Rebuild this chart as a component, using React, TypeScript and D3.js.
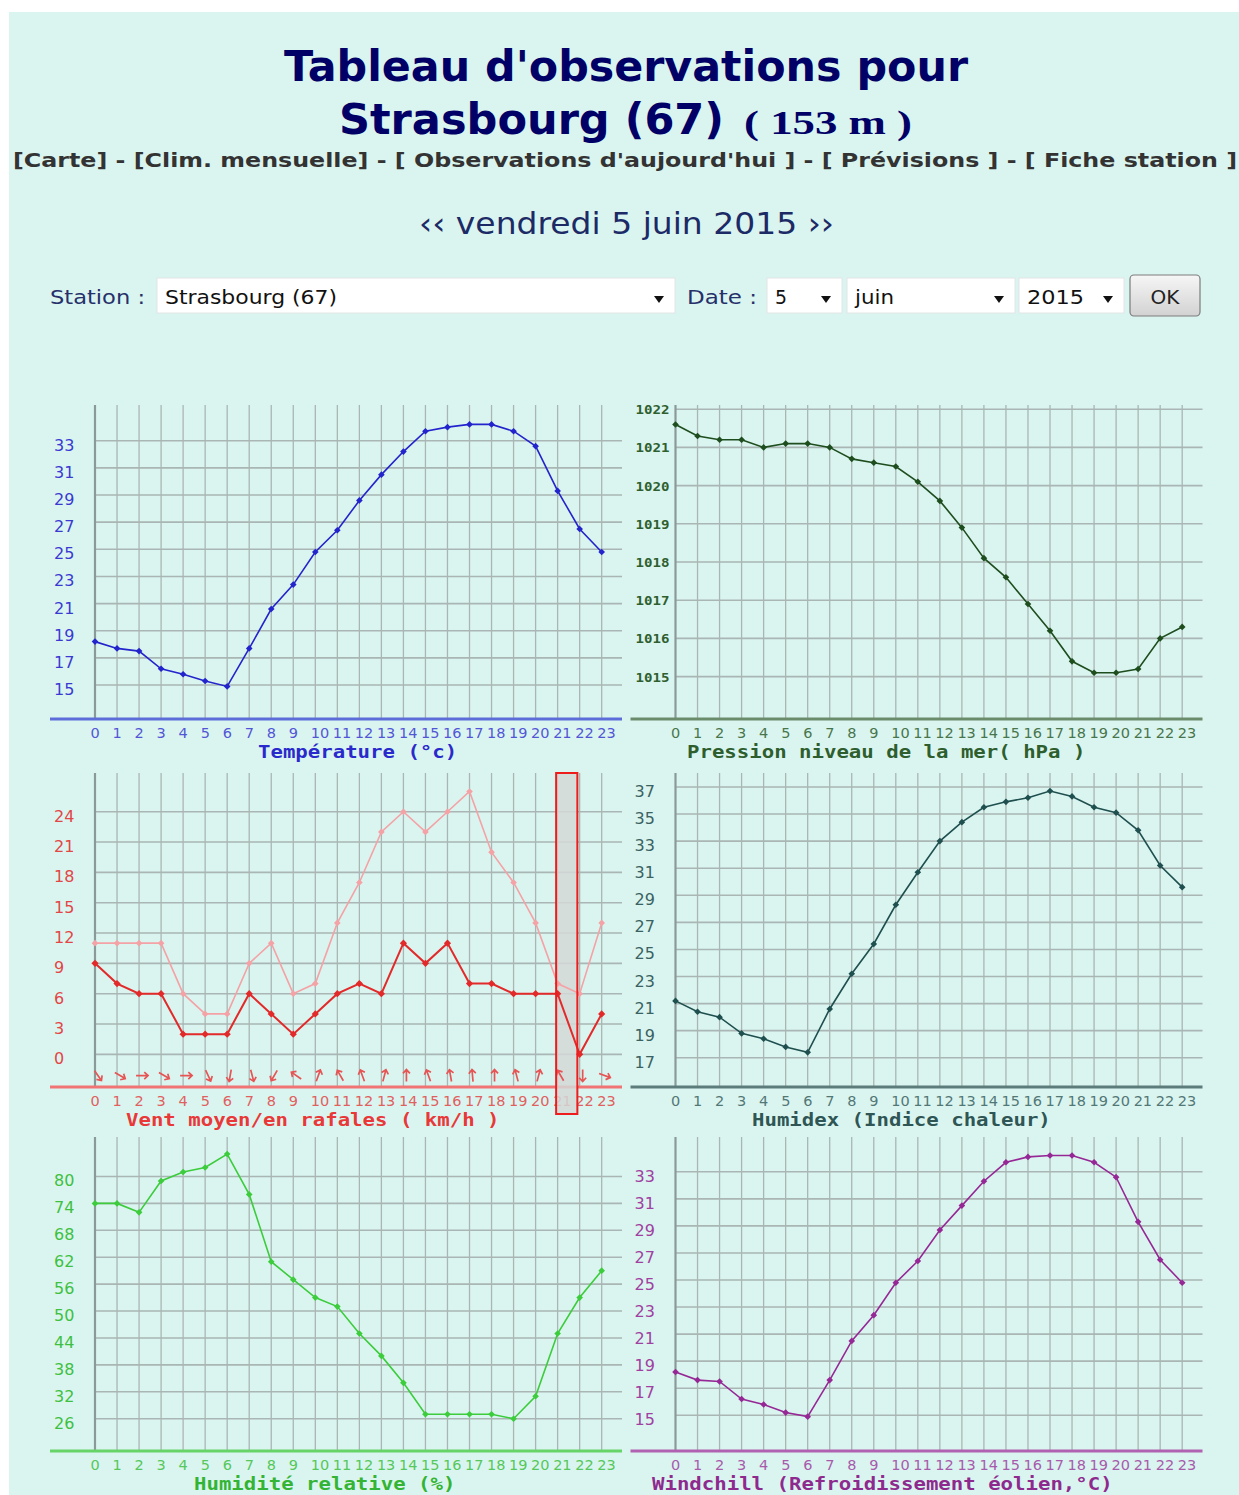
import React, {FC} from "react";
import * as d3 from "d3";

// hourly observations, Strasbourg 5 June 2015
const hours = [0, 1, 2, 3, 4, 5, 6, 7, 8, 9, 10, 11, 12, 13, 14, 15, 16, 17, 18, 19, 20, 21, 22, 23];

const temperature = [18.2, 17.7, 17.5, 16.2, 15.8, 15.3, 14.9, 17.7, 20.6, 22.4, 24.8, 26.4, 28.6, 30.5, 32.2, 33.7, 34.0, 34.2, 34.2, 33.7, 32.6, 29.3, 26.5, 24.8];
const pressure = [1021.6, 1021.3, 1021.2, 1021.2, 1021.0, 1021.1, 1021.1, 1021.0, 1020.7, 1020.6, 1020.5, 1020.1, 1019.6, 1018.9, 1018.1, 1017.6, 1016.9, 1016.2, 1015.4, 1015.1, 1015.1, 1015.2, 1016.0, 1016.3];
const windMean = [9, 7, 6, 6, 2, 2, 2, 6, 4, 2, 4, 6, 7, 6, 11, 9, 11, 7, 7, 6, 6, 6, 0, 4];
const windGust = [11, 11, 11, 11, 6, 4, 4, 9, 11, 6, 7, 13, 17, 22, 24, 22, 24, 26, 20, 17, 13, 7, 6, 13];
// direction the arrow points to, degrees clockwise from up
const windDirection = [145, 120, 90, 120, 90, 155, 190, 165, 210, 305, 20, 330, 340, 15, 0, 340, 350, 355, 0, 345, 15, 330, 180, 110];
const humidex = [21.2, 20.4, 20.0, 18.8, 18.4, 17.8, 17.4, 20.6, 23.2, 25.4, 28.3, 30.7, 33.0, 34.4, 35.5, 35.9, 36.2, 36.7, 36.3, 35.5, 35.1, 33.8, 31.2, 29.6];
const humidity = [74, 74, 72, 79, 81, 82, 85, 76, 61, 57, 53, 51, 45, 40, 34, 27, 27, 27, 27, 26, 31, 45, 53, 59];
const windchill = [18.2, 17.6, 17.5, 16.2, 15.8, 15.2, 14.9, 17.6, 20.5, 22.4, 24.8, 26.4, 28.7, 30.5, 32.3, 33.7, 34.1, 34.2, 34.2, 33.7, 32.6, 29.3, 26.5, 24.8];
const highlightHour = 21;

const tempTicks = [15, 17, 19, 21, 23, 25, 27, 29, 31, 33];
const pressureTicks = [1015, 1016, 1017, 1018, 1019, 1020, 1021, 1022];
const windTicks = [0, 3, 6, 9, 12, 15, 18, 21, 24];
const humidexTicks = [17, 19, 21, 23, 25, 27, 29, 31, 33, 35, 37];
const humidityTicks = [26, 32, 38, 44, 50, 56, 62, 68, 74, 80];

const W = 1239;
const H = 1495;
const step = 22.03;
const grid = "#a9b6b3";

type Scale = d3.ScaleLinear<number, number>;

interface Series {
    values: number[];
    color: string;
    width: number;
    size: number;
}

interface PanelProps {
    x0: number;
    top: number;
    axisY: number;
    domain: [number, number];
    ticks: number[];
    series: Series[];
    labelColor: string;
    titleColor: string;
    axisColor: string;
    title: string;
    titleX: number;
    smallTicks?: boolean;
    under?: (x: Scale, y: Scale) => React.ReactNode;
    extra?: (x: Scale, y: Scale) => React.ReactNode;
}

const Panel: FC<PanelProps> = ({x0, top, axisY, domain, ticks, series, labelColor, titleColor, axisColor, title, titleX, smallTicks, under, extra}) => {
    const x = d3.scaleLinear().domain([hours[0], hours[hours.length - 1]]).range([x0, x0 + 23 * step]);
    const y = d3.scaleLinear().domain(domain).range([axisY, top]);
    const right = x0 + 527;
    const clipId = `clip-${Math.round(x0)}-${top}`;

    return (
        <g>
            <clipPath id={clipId}>
                <rect x={x0 - 50} y={top - 1} width={590} height={axisY - top + 40}/>
            </clipPath>
            <g clipPath={`url(#${clipId})`}>
                {ticks.map(t => (
                    <line key={"h" + t} x1={x0} x2={right} y1={y(t)} y2={y(t)} stroke={grid} strokeWidth={1.6}/>
                ))}
                {hours.map(h => (
                    <line key={"v" + h} x1={x(h)} x2={x(h)} y1={top} y2={axisY}
                          stroke={h === 0 ? "#8a9a98" : grid} strokeWidth={h === 0 ? 2.2 : 1.3}/>
                ))}
                {ticks.map(t => smallTicks ? (
                    <text key={"t" + t} x={x0 - 40} y={y(t) + 5} fontFamily="DejaVu Sans Mono" fontWeight="bold"
                          fontSize={13} fill={labelColor} textLength={34} lengthAdjust="spacingAndGlyphs">{t}</text>
                ) : (
                    <text key={"t" + t} x={x0 - 41} y={y(t) + 10} fontFamily="DejaVu Sans" fontSize={16}
                          fill={labelColor}>{t}</text>
                ))}
            </g>
            <line x1={x0 - 45} x2={right} y1={axisY} y2={axisY} stroke={axisColor} strokeWidth={3}/>
            {hours.map(h => (
                <text key={"x" + h} x={x(h) - 4.5} y={axisY + 19} fontFamily="DejaVu Sans" fontSize={14.5}
                      fill={labelColor} opacity={0.85}>{h}</text>
            ))}
            {under && under(x, y)}
            {series.map((s, k) => {
                const line = d3.line<number>().x((_, i) => x(hours[i])).y(d => y(d));
                const marker = d3.symbol(d3.symbolSquare, s.size)() ?? "";
                return (
                    <g key={k}>
                        <path d={line(s.values) ?? ""} fill="none" stroke={s.color} strokeWidth={s.width}/>
                        {s.values.map((v, i) => (
                            <path key={i} d={marker} fill={s.color}
                                  transform={`translate(${x(hours[i])},${y(v)}) rotate(45)`}/>
                        ))}
                    </g>
                );
            })}
            {extra && extra(x, y)}
            <text x={titleX} y={axisY + 39} fontFamily="DejaVu Sans Mono" fontWeight="bold" fontSize={17}
                  fill={titleColor} textLength={title.length * 12.45} lengthAdjust="spacingAndGlyphs">{title}</text>
        </g>
    );
};

const SelectBox: FC<{x: number; w: number; label: string; labelW: number}> = ({x, w, label, labelW}) => (
    <g>
        <rect x={x} y={278} width={w} height={35} fill="#ffffff" stroke="#e2e6e6" strokeWidth={1}/>
        <text x={x + 8} y={304} fontFamily="DejaVu Sans" fontSize={20} fill="#111" textLength={labelW}
              lengthAdjust="spacingAndGlyphs">{label}</text>
        <path d={`M${x + w - 21},${296} l10,0 l-5,7 z`} fill="#111"/>
    </g>
);

const windHighlight = (x: Scale) => (
    <rect x={x(highlightHour) - 1.5} y={773} width={step - 0.8} height={341}
          fill="#d4d8d7" fillOpacity={0.85}/>
);

const windArrows = (x: Scale, y: Scale) => (
    <g>
        {windDirection.map((a, i) => (
            <path key={i} d="M0,6 L0,-6 M-3.5,-2.2 L0,-6 L3.5,-2.2" fill="none" stroke="#e65454" strokeWidth={1.7}
                  transform={`translate(${x(hours[i]) + 3},${y(-2.1)}) rotate(${a})`}/>
        ))}
        <rect x={x(highlightHour) - 1.5} y={773} width={step - 0.8} height={341}
              fill="none" stroke="#ee1c1c" strokeWidth={2}/>
    </g>
);

const App: FC = () => {
    const left = 95;
    const rightCol = 675.5;
    return (
        <svg width={W} height={H} style={{position: "absolute", left: 0, top: 0}}>
            <defs>
                <linearGradient id="btn" x1="0" y1="0" x2="0" y2="1">
                    <stop offset="0" stopColor="#f6f6f6"/>
                    <stop offset="1" stopColor="#d2d2d2"/>
                </linearGradient>
            </defs>
            <rect x={0} y={0} width={W} height={H} fill="#ffffff"/>
            <rect x={9} y={12} width={W - 9} height={H - 12} fill="#daf5f0"/>

            <text x={626} y={81} textAnchor="middle" fontFamily="DejaVu Sans" fontWeight="bold" fontSize={42}
                  fill="#000066" textLength={684} lengthAdjust="spacingAndGlyphs">Tableau d'observations pour</text>
            <text x={339} y={134} fontFamily="DejaVu Sans" fontWeight="bold" fontSize={42} fill="#000066"
                  textLength={385} lengthAdjust="spacingAndGlyphs">Strasbourg (67)</text>
            <text x={744} y={134} fontFamily="Liberation Serif" fontWeight="bold" fontSize={34} fill="#000066"
                  textLength={168} lengthAdjust="spacingAndGlyphs">( 153 m )</text>
            <text x={13} y={167} fontFamily="DejaVu Sans" fontWeight="bold" fontSize={20} fill="#333333"
                  textLength={1224} lengthAdjust="spacingAndGlyphs">[Carte] - [Clim. mensuelle] - [ Observations d'aujourd'hui ] - [ Prévisions ] - [ Fiche station ]</text>
            <text x={419} y={234} fontFamily="DejaVu Sans" fontSize={30} fill="#1c2a66" textLength={415}
                  lengthAdjust="spacingAndGlyphs">‹‹ vendredi 5 juin 2015 ››</text>

            <text x={50} y={304} fontFamily="DejaVu Sans" fontSize={20} fill="#26306a" textLength={95}
                  lengthAdjust="spacingAndGlyphs">Station :</text>
            <SelectBox x={157} w={518} label="Strasbourg (67)" labelW={172}/>
            <text x={687} y={304} fontFamily="DejaVu Sans" fontSize={20} fill="#26306a" textLength={70}
                  lengthAdjust="spacingAndGlyphs">Date :</text>
            <SelectBox x={767} w={75} label="5" labelW={12}/>
            <SelectBox x={847} w={168} label="juin" labelW={39}/>
            <SelectBox x={1019} w={105} label="2015" labelW={57}/>
            <rect x={1130} y={275} width={70} height={41} rx={4} fill="url(#btn)" stroke="#7c7c7c" strokeWidth={1.2}/>
            <text x={1165} y={304} textAnchor="middle" fontFamily="DejaVu Sans" fontSize={20} fill="#222">OK</text>

            <Panel x0={left} top={405} axisY={719} domain={[12.5, 35.63]} ticks={tempTicks}
                   series={[{values: temperature, color: "#2424cc", width: 1.6, size: 22}]}
                   labelColor="#3a3ad2" titleColor="#2a2acc" axisColor="#5c6cd8"
                   title="Température (°c)" titleX={258}/>
            <Panel x0={rightCol} top={405} axisY={719} domain={[1013.89, 1022.11]} ticks={pressureTicks}
                   series={[{values: pressure, color: "#1e4d1e", width: 1.6, size: 22}]}
                   labelColor="#2f5f2f" titleColor="#2e5e2e" axisColor="#6a8c6a" smallTicks
                   title="Pression niveau de la mer( hPa )" titleX={687}/>
            <Panel x0={left} top={773} axisY={1087} domain={[-3.23, 27.83]} ticks={windTicks}
                   series={[
                       {values: windGust, color: "#f4a2a6", width: 1.6, size: 22},
                       {values: windMean, color: "#e22a2a", width: 2, size: 26},
                   ]}
                   labelColor="#e24646" titleColor="#e83838" axisColor="#f07474"
                   title="Vent moyen/en rafales ( km/h )" titleX={126}
                   under={windHighlight} extra={windArrows}/>
            <Panel x0={rightCol} top={773} axisY={1087} domain={[14.84, 38.03]} ticks={humidexTicks}
                   series={[{values: humidex, color: "#1f4f4f", width: 1.6, size: 22}]}
                   labelColor="#3a6262" titleColor="#2f5555" axisColor="#5c7c7c"
                   title="Humidex (Indice chaleur)" titleX={752}/>
            <Panel x0={left} top={1137} axisY={1451} domain={[18.8, 88.8]} ticks={humidityTicks}
                   series={[{values: humidity, color: "#3ccc3c", width: 1.6, size: 22}]}
                   labelColor="#40c040" titleColor="#34b434" axisColor="#66d466"
                   title="Humidité relative (%)" titleX={194}/>
            <Panel x0={rightCol} top={1137} axisY={1451} domain={[12.36, 35.57]} ticks={tempTicks}
                   series={[{values: windchill, color: "#962896", width: 1.6, size: 22}]}
                   labelColor="#a040a0" titleColor="#8e2a8e" axisColor="#b062b0"
                   title="Windchill (Refroidissement éolien,°C)" titleX={652}/>
        </svg>
    );
};

export default App;
